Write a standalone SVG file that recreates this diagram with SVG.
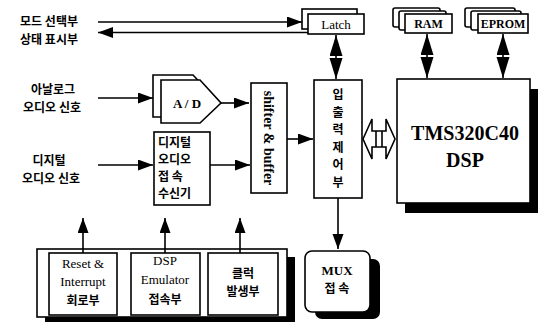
<svg xmlns="http://www.w3.org/2000/svg" width="545" height="322" viewBox="0 0 545 322">
<style>
.box{fill:#fff;stroke:#000;stroke-width:1.6}
.sh{fill:#000}
.ln{stroke:#000;stroke-width:1.6;fill:none}
.kr{font-family:"Noto Sans CJK KR","Noto Sans",sans-serif;font-weight:bold;font-size:12px;fill:#000}
.en{font-family:"Liberation Serif",serif;font-weight:bold;fill:#000}
.er{font-family:"Liberation Serif",serif;fill:#000}
</style>
<defs>
<marker id="ah" markerUnits="userSpaceOnUse" markerWidth="16" markerHeight="12" refX="15" refY="5.5" orient="auto-start-reverse"><path d="M0,0 L15,5.5 L0,11 z" fill="#000"/></marker>
<marker id="ah2" markerUnits="userSpaceOnUse" markerWidth="22" markerHeight="14" refX="21" refY="6.5" orient="auto-start-reverse"><path d="M0,0 L21,6.5 L0,13 z" fill="#000"/></marker>
</defs>

<g id="labels">
<text class="kr" x="49" y="26" text-anchor="middle">모드 선택부</text>
<text class="kr" x="49" y="44" text-anchor="middle">상태 표시부</text>
<text class="kr" x="53" y="94" text-anchor="middle">아날로그</text>
<text class="kr" x="52" y="112" text-anchor="middle">오디오 신호</text>
<text class="kr" x="49" y="165" text-anchor="middle">디지털</text>
<text class="kr" x="51" y="183" text-anchor="middle">오디오 신호</text>
</g>

<g id="latch">
<rect class="box" x="302" y="9" width="55" height="20"/>
<rect class="box" x="308" y="14" width="56" height="20"/>
<text class="er" x="336" y="29" font-size="13" text-anchor="middle">Latch</text>
</g>

<g id="ram">
<rect class="box" x="393" y="8" width="47" height="19" rx="2"/>
<rect class="box" x="399" y="11" width="47" height="19" rx="2"/>
<rect class="box" x="405" y="14" width="47" height="19"/>
<text class="en" x="428.5" y="28" font-size="12" text-anchor="middle">RAM</text>
</g>

<g id="eprom">
<rect class="box" x="465" y="8" width="50" height="19" rx="2"/>
<rect class="box" x="471" y="11" width="50" height="19" rx="2"/>
<rect class="box" x="478" y="14" width="50" height="19"/>
<text class="en" x="503" y="28" font-size="12" text-anchor="middle">EPROM</text>
</g>

<g id="ad">
<path class="box" d="M153,75 H193 L213,96 L193,117 H153 Z"/>
<path class="box" d="M161,80 H200 L221,103 L200,123 H161 Z"/>
<text class="en" x="187" y="108" font-size="13" text-anchor="middle">A / D</text>
</g>

<g id="digital-rx">
<rect class="box" x="154" y="132" width="56" height="73"/>
<text class="kr" x="158" y="147">디지털</text>
<text class="kr" x="158" y="164">오디오</text>
<text class="kr" x="158" y="181">접 속</text>
<text class="kr" x="158" y="198">수신기</text>
</g>

<g id="shifter">
<rect class="box" x="251" y="83" width="36" height="110"/>
<text class="en" font-size="14" text-anchor="middle" transform="translate(264,138) rotate(90)">shifter &amp; buffer</text>
</g>

<g id="io-ctrl">
<rect class="box" x="314" y="80" width="48" height="118"/>
<text class="kr" x="338" y="99" text-anchor="middle">입</text>
<text class="kr" x="338" y="116.5" text-anchor="middle">출</text>
<text class="kr" x="338" y="134" text-anchor="middle">력</text>
<text class="kr" x="338" y="151.5" text-anchor="middle">제</text>
<text class="kr" x="338" y="169" text-anchor="middle">어</text>
<text class="kr" x="338" y="186.5" text-anchor="middle">부</text>
</g>

<g id="dsp">
<rect class="sh" x="405" y="89" width="133" height="124"/>
<rect class="box" x="397" y="79" width="133" height="124"/>
<text class="en" x="465" y="140" font-size="20" text-anchor="middle">TMS320C40</text>
<text class="en" x="465" y="167" font-size="20" text-anchor="middle">DSP</text>
</g>

<g id="mux">
<rect class="sh" x="315" y="259" width="65" height="60" rx="7"/>
<rect class="box" x="305" y="251" width="65" height="61" rx="7"/>
<text class="en" x="337" y="275" font-size="13" text-anchor="middle">MUX</text>
<text class="kr" x="337" y="293" text-anchor="middle">접 속</text>
</g>

<g id="bottom-group">
<rect class="sh" x="45" y="257" width="250" height="70"/>
<rect class="box" x="37" y="249" width="250" height="68"/>
</g>
<g id="reset">
<rect class="box" x="49" y="253" width="68" height="62"/>
<text class="er" x="83" y="268" font-size="13" text-anchor="middle">Reset &amp;</text>
<text class="er" x="83" y="286" font-size="13" text-anchor="middle">Interrupt</text>
<text class="kr" x="83" y="305" text-anchor="middle">회로부</text>
</g>
<g id="emulator">
<rect class="box" x="131" y="253" width="69" height="62"/>
<text class="er" x="165" y="265" font-size="13" text-anchor="middle">DSP</text>
<text class="er" x="165" y="284" font-size="13" text-anchor="middle">Emulator</text>
<text class="kr" x="165" y="304" text-anchor="middle">접속부</text>
</g>
<g id="clock">
<rect class="box" x="208" y="253" width="70" height="62"/>
<text class="kr" x="243" y="278" text-anchor="middle">클럭</text>
<text class="kr" x="243" y="296" text-anchor="middle">발생부</text>
</g>

<g id="connectors">
<line class="ln" x1="98" y1="22" x2="302" y2="22" marker-end="url(#ah)"/>
<line class="ln" x1="308" y1="32.5" x2="98" y2="32.5" marker-end="url(#ah)"/>
<line class="ln" x1="98" y1="98" x2="153" y2="98" marker-end="url(#ah)"/>
<line class="ln" x1="221" y1="103" x2="249" y2="103" marker-end="url(#ah)"/>
<line class="ln" x1="98" y1="165" x2="153" y2="165" marker-end="url(#ah)"/>
<line class="ln" x1="210" y1="165" x2="250" y2="165" marker-end="url(#ah)"/>
<line class="ln" x1="287" y1="139" x2="313" y2="139" marker-end="url(#ah)"/>
<line class="ln" x1="338" y1="198" x2="338" y2="249" marker-end="url(#ah)"/>
<line class="ln" x1="336" y1="35" x2="336" y2="79" marker-start="url(#ah2)" marker-end="url(#ah2)"/>
<line class="ln" x1="427" y1="34" x2="427" y2="78" marker-start="url(#ah2)" marker-end="url(#ah2)"/>
<line class="ln" x1="503" y1="34" x2="503" y2="78" marker-start="url(#ah2)" marker-end="url(#ah2)"/>
<line class="ln" x1="83" y1="253" x2="83" y2="218" marker-end="url(#ah)"/>
<line class="ln" x1="165" y1="253" x2="165" y2="218" marker-end="url(#ah)"/>
<line class="ln" x1="240" y1="253" x2="240" y2="218" marker-end="url(#ah)"/>
<path class="box" d="M363,139 L372,119 L372,131 L386,131 L386,119 L395,139 L386,159 L386,147 L372,147 L372,159 Z"/>
<line class="ln" x1="376" y1="131" x2="376" y2="147"/>
<line class="ln" x1="382" y1="131" x2="382" y2="147"/>
</g>
</svg>
